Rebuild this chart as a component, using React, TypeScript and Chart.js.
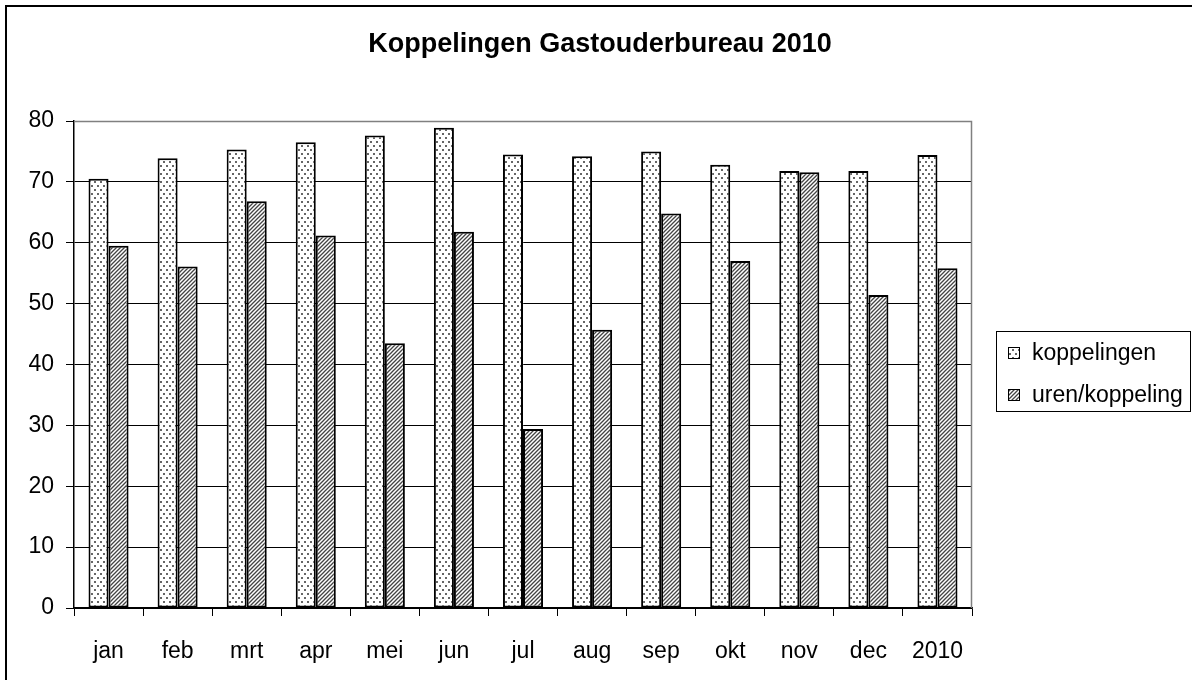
import React, { useEffect, useRef } from "react";
import { Chart, registerables } from "chart.js";

Chart.register(...registerables);

const categories = ["jan", "feb", "mrt", "apr", "mei", "jun", "jul", "aug", "sep", "okt", "nov", "dec", "2010"];
const koppelingen = [70.5, 73.9, 75.3, 76.5, 77.6, 78.9, 74.5, 74.2, 75.0, 72.8, 71.8, 71.8, 74.4];
const urenPerKoppeling = [59.5, 56.1, 66.8, 61.2, 43.5, 61.8, 29.4, 45.7, 64.8, 57.0, 71.6, 51.4, 55.8];
const seriesNames = ["koppelingen", "uren/koppeling"];
const chartTitle = "Koppelingen Gastouderbureau 2010";

const FONT = "'Liberation Sans', Arial, Helvetica, sans-serif";

function makeDotPattern(ctx: CanvasRenderingContext2D): CanvasPattern | string {
  const c = document.createElement("canvas");
  c.width = 6;
  c.height = 8;
  const p = c.getContext("2d")!;
  p.fillStyle = "#ffffff";
  p.fillRect(0, 0, 6, 8);
  p.fillStyle = "#666666";
  p.fillRect(1, 1, 2, 2);
  p.fillRect(4, 5, 2, 2);
  return ctx.createPattern(c, "repeat") || "#ddd";
}

function makeHatchPattern(ctx: CanvasRenderingContext2D): CanvasPattern | string {
  const s = 4;
  const c = document.createElement("canvas");
  c.width = s;
  c.height = s;
  const p = c.getContext("2d")!;
  p.fillStyle = "#ffffff";
  p.fillRect(0, 0, s, s);
  p.strokeStyle = "#444444";
  p.lineWidth = 1.3;
  p.beginPath();
  p.moveTo(-1, s + 1);
  p.lineTo(s + 1, -1);
  p.moveTo(-1, 1);
  p.lineTo(1, -1);
  p.moveTo(s - 1, s + 1);
  p.lineTo(s + 1, s - 1);
  p.stroke();
  return ctx.createPattern(c, "repeat") || "#999";
}

export default function App() {
  const ref = useRef<HTMLCanvasElement | null>(null);

  useEffect(() => {
    document.body.style.margin = "0";
    const canvas = ref.current!;
    const ctx = canvas.getContext("2d")!;
    const dots = makeDotPattern(ctx);
    const hatch = makeHatchPattern(ctx);
    const fills = [dots, hatch];

    const decor = {
      id: "decor",
      afterDraw(chart: any) {
        const c = chart.ctx as CanvasRenderingContext2D;
        const a = chart.chartArea;
        c.save();
        // outer frame
        c.fillStyle = "#000";
        c.fillRect(5, 5, 1200, 2);
        c.fillRect(5, 5, 2, 700);
        // plot border top/right (gray)
        c.strokeStyle = "#808080";
        c.lineWidth = 1.5;
        c.beginPath();
        c.moveTo(a.left, a.top + 0.5);
        c.lineTo(a.right - 0.5, a.top + 0.5);
        c.lineTo(a.right - 0.5, a.bottom);
        c.stroke();
        // title
        c.fillStyle = "#000";
        c.font = `bold 27px ${FONT}`;
        c.textAlign = "center";
        c.textBaseline = "alphabetic";
        c.fillText(chartTitle, 600, 52);
        // legend
        c.strokeStyle = "#000";
        c.lineWidth = 1;
        c.strokeRect(996.5, 331.5, 194, 80);
        c.font = `23px ${FONT}`;
        c.textAlign = "left";
        c.textBaseline = "middle";
        const ys = [353, 395];
        chart.data.datasets.forEach((ds: any, i: number) => {
          const y = ys[i];
          c.fillStyle = fills[i] as any;
          c.fillRect(1008, y - 6, 12, 12);
          c.strokeStyle = "#000";
          c.lineWidth = 1;
          c.strokeRect(1008.5, y - 5.5, 11, 11);
          c.fillStyle = "#000";
          c.fillText(ds.label, 1032, y + 1);
        });
        c.restore();
      },
    };

    const chart = new Chart(canvas, {
      type: "bar",
      data: {
        labels: categories,
        datasets: [
          {
            label: seriesNames[0],
            data: koppelingen,
            backgroundColor: dots as any,
            borderColor: "#000",
            borderWidth: 2,
            borderSkipped: false,
            categoryPercentage: 0.58,
            barPercentage: 1,
          },
          {
            label: seriesNames[1],
            data: urenPerKoppeling,
            backgroundColor: hatch as any,
            borderColor: "#000",
            borderWidth: 2,
            borderSkipped: false,
            categoryPercentage: 0.58,
            barPercentage: 1,
          },
        ],
      },
      options: {
        responsive: false,
        animation: false,
        devicePixelRatio: 1,
        layout: { padding: { top: 121, right: 220, left: 0, bottom: 0 } },
        plugins: {
          legend: { display: false },
          title: { display: false },
          tooltip: { enabled: false },
        },
        scales: {
          x: {
            afterFit: (s: any) => {
              s.height = 72;
            },
            grid: {
              offset: true,
              drawOnChartArea: false,
              drawTicks: true,
              tickLength: 8,
              color: "#000",
              lineWidth: 1,
            },
            border: { display: true, color: "#000", width: 1.5 },
            ticks: {
              color: "#000",
              font: { family: FONT, size: 23 },
              padding: 22,
              maxRotation: 0,
              autoSkip: false,
            },
          },
          y: {
            min: 0,
            max: 80,
            afterFit: (s: any) => {
              s.width = 74;
            },
            grid: {
              color: "#000",
              lineWidth: 1,
              drawTicks: true,
              tickLength: 8,
            },
            border: { display: true, color: "#000", width: 1.5 },
            ticks: {
              stepSize: 10,
              color: "#000",
              font: { family: FONT, size: 23 },
              padding: 12,
            },
          },
        },
      },
      plugins: [decor],
    });

    return () => chart.destroy();
  }, []);

  return (
    <div style={{ width: 1192, height: 680, background: "#fff" }}>
      <canvas ref={ref} width={1192} height={680} style={{ display: "block" }} />
    </div>
  );
}
